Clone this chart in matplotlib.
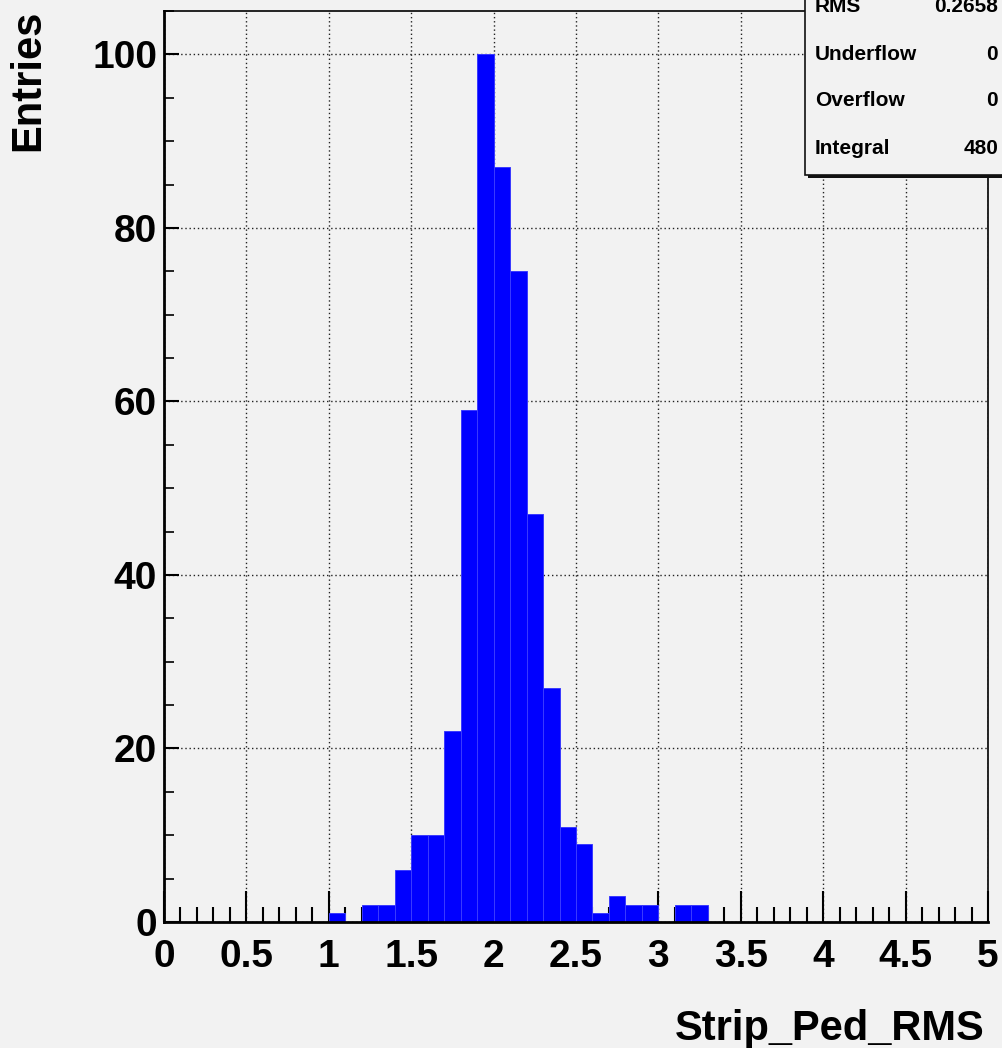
import numpy as np
import matplotlib
matplotlib.use('Agg')
import matplotlib.pyplot as plt
from matplotlib.patches import Rectangle
from matplotlib.ticker import MultipleLocator

plt.rcParams['font.family'] = ['Liberation Sans', 'DejaVu Sans']
plt.rcParams['font.weight'] = 'bold'

# histogram content: 50 bins of width 0.1 from 0 to 5
bin_lo = np.round(np.arange(0.0, 5.0, 0.1), 2)
counts = np.zeros(50)
filled_lo = [1.0, 1.2, 1.3, 1.4, 1.5, 1.6, 1.7, 1.8, 1.9, 2.0, 2.1,
             2.2, 2.3, 2.4, 2.5, 2.6, 2.7, 2.8, 2.9, 3.1, 3.2]
filled_n = [1, 2, 2, 6, 10, 10, 22, 59, 100, 87, 75,
            47, 27, 11, 9, 1, 3, 2, 2, 2, 2]
for lo, n in zip(filled_lo, filled_n):
    counts[int(round(lo * 10))] = n

stat_names = ['RMS', 'Underflow', 'Overflow', 'Integral']
stat_values = ['0.2658', '0', '0', '480']

xticks = [0, 0.5, 1, 1.5, 2, 2.5, 3, 3.5, 4, 4.5, 5]
xticklabels = ['0', '0.5', '1', '1.5', '2', '2.5', '3', '3.5', '4', '4.5', '5']
yticks = [0, 20, 40, 60, 80, 100]

W, H = 1002, 1048
bg = '#f2f2f2'


def fx(px):
    return px / W


def fy(py):
    return 1 - py / H


fig = plt.figure(figsize=(W / 100, H / 100), dpi=100, facecolor=bg)
ax = fig.add_axes([fx(164), fy(922), (988 - 164) / W, (922 - 11) / H])
ax.set_facecolor(bg)

ax.bar(bin_lo, counts, width=0.1, align='edge', color='#0000ff',
       edgecolor='#3a3aff', linewidth=0.7, zorder=2)

ax.set_xlim(0, 5)
ax.set_ylim(0, 105)
ax.set_xticks(xticks)
ax.set_xticklabels(xticklabels)
ax.set_yticks(yticks)
ax.xaxis.set_minor_locator(MultipleLocator(0.1))
ax.yaxis.set_minor_locator(MultipleLocator(5))
ax.grid(True, which='major', color='#222222', linestyle=(0, (1, 2)),
        linewidth=1.0, zorder=1)
ax.set_axisbelow(True)

ax.tick_params(axis='x', which='major', direction='in', length=22, width=1.5,
               labelsize=28, pad=12)
ax.tick_params(axis='x', which='minor', direction='in', length=11, width=1.5)
ax.tick_params(axis='y', which='major', direction='in', length=11, width=1.5,
               labelsize=28, pad=5)
ax.tick_params(axis='y', which='minor', direction='in', length=7, width=1.2)
for lab in ax.get_xticklabels() + ax.get_yticklabels():
    lab.set_fontweight('bold')
for side in ['left', 'bottom']:
    ax.spines[side].set_linewidth(2.0)
for side in ['top', 'right']:
    ax.spines[side].set_linewidth(1.2)

fig.text(fx(985), fy(1040), 'Strip_Ped_RMS', ha='right', va='baseline',
         fontsize=30, fontweight='bold')
fig.text(fx(8), fy(10), 'Entries', rotation=90, ha='left', va='top',
         fontsize=30, fontweight='bold')

# stats box with shadow, running off the top right corner
fig.patches.append(Rectangle((fx(808), fy(178)), 0.3, 0.3, transform=fig.transFigure,
                             facecolor='#111111', edgecolor='none', zorder=5))
fig.patches.append(Rectangle((fx(805), fy(175)), 0.3, 0.3, transform=fig.transFigure,
                             facecolor=bg, edgecolor='#111111', linewidth=1.2,
                             zorder=6))
for i, (name, val) in enumerate(zip(stat_names, stat_values)):
    yc = 7 + 47 * i
    fig.text(fx(815), fy(yc), name, ha='left', va='center', fontsize=15,
             fontweight='bold', zorder=7)
    fig.text(fx(998), fy(yc), val, ha='right', va='center', fontsize=15,
             fontweight='bold', zorder=7)

fig.savefig('out.png', dpi=100, facecolor=bg)
